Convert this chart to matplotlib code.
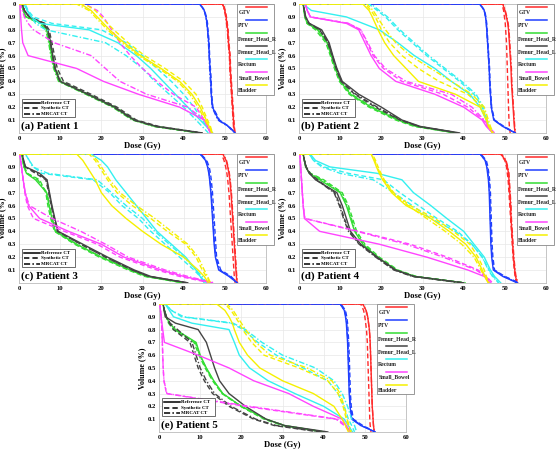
import matplotlib
matplotlib.use("Agg")
import matplotlib.pyplot as plt

plt.rcParams['font.family'] = ['Liberation Serif', 'DejaVu Serif']
plt.rcParams['font.weight'] = 'bold'

# volume levels shared by all curves, dose values read at these levels
VOL = [1.0, 0.95, 0.9, 0.85, 0.8, 0.7, 0.6, 0.5, 0.4, 0.3, 0.2, 0.1, 0.05, 0.0]

structures = ['GTV', 'PTV', 'Femur_Head_R', 'Femur_Head_L', 'Rectum', 'Small_Bowel', 'Bladder']
colors = ['#ff2a2a', '#1f3fff', '#33dd33', '#444444', '#33f0f0', '#ff44ff', '#f5f000']
modalities = ['Reference CT', 'Synthetic CT', 'MRCAT CT']
styles = ['-', (0, (3.5, 2)), (0, (4, 1.5, 1, 1.5))]
panel_titles = ['(a) Patient 1', '(b) Patient 2', '(c) Patient 3', '(d) Patient 4', '(e) Patient 5']

# Patient 1  [reference, synthetic, mrcat]
p1_gtv = [[49.5, 50.0, 50.3, 50.5, 50.7, 50.9, 51.2, 51.3, 51.5, 51.7, 51.9, 52.1, 52.2, 52.4],
          [49.6, 50.1, 50.4, 50.6, 50.8, 51.0, 51.3, 51.4, 51.6, 51.8, 52.0, 52.2, 52.3, 52.5],
          [49.4, 49.9, 50.2, 50.4, 50.6, 50.8, 51.1, 51.2, 51.4, 51.6, 51.8, 52.0, 52.1, 52.3]]
p1_ptv = [[43.9, 45.0, 45.4, 45.7, 45.8, 46.1, 46.2, 46.4, 46.6, 46.7, 47.0, 48.5, 50.9, 52.5],
          [44.0, 45.1, 45.5, 45.8, 45.9, 46.2, 46.3, 46.5, 46.7, 46.8, 47.1, 48.7, 51.0, 52.5],
          [43.9, 45.0, 45.4, 45.6, 45.8, 46.0, 46.2, 46.3, 46.5, 46.7, 46.9, 48.3, 50.8, 52.4]]
p1_fhr = [[0.6, 1.0, 1.7, 5.5, 6.7, 7.4, 7.9, 8.6, 9.8, 16.5, 23.0, 27.8, 33.0, 44.0],
          [0.6, 1.0, 1.8, 5.8, 7.0, 7.7, 8.2, 8.9, 10.2, 17.0, 23.5, 28.2, 33.5, 44.0],
          [0.6, 1.0, 1.6, 5.0, 6.5, 7.2, 7.7, 8.4, 9.6, 16.2, 22.7, 27.5, 32.8, 43.5]]
p1_fhl = [[0.8, 1.3, 2.5, 6.0, 7.0, 7.7, 8.2, 8.8, 10.0, 16.8, 23.3, 28.0, 33.5, 44.5],
          [0.8, 1.3, 2.6, 6.3, 7.3, 8.0, 8.6, 9.3, 10.8, 17.5, 23.8, 28.5, 34.0, 44.5],
          [0.8, 1.3, 2.4, 5.8, 6.9, 7.6, 8.1, 8.7, 9.9, 16.6, 23.0, 27.8, 33.2, 44.0]]
p1_rec = [[1.2, 2.0, 3.0, 5.0, 17.0, 24.0, 28.5, 32.0, 35.0, 38.0, 41.0, 44.0, 45.5, 47.0],
          [1.5, 2.2, 3.5, 8.0, 20.0, 26.0, 30.0, 33.5, 37.0, 40.0, 42.5, 44.5, 45.5, 47.0],
          [1.2, 2.0, 3.0, 4.0, 6.5, 21.0, 26.0, 30.0, 33.0, 36.5, 40.0, 43.0, 44.5, 46.0]]
p1_sb = [[0.2, 0.3, 0.4, 0.5, 0.6, 0.9, 2.2, 14.0, 20.5, 29.0, 39.0, 45.0, 45.8, 46.5],
         [16.0, 19.0, 20.5, 21.5, 22.5, 24.5, 27.0, 30.0, 33.5, 37.5, 43.0, 45.0, 45.8, 46.5],
         [0.3, 0.8, 1.3, 2.2, 3.5, 8.5, 17.5, 21.0, 24.5, 31.0, 41.0, 45.0, 45.8, 46.5]]
p1_bla = [[15.0, 17.5, 19.0, 20.5, 22.0, 25.5, 29.5, 34.5, 39.0, 42.0, 44.0, 45.5, 46.2, 47.0],
          [16.0, 18.5, 20.0, 21.5, 23.0, 26.5, 30.5, 35.5, 40.0, 43.0, 44.5, 45.8, 46.5, 47.0],
          [14.0, 17.0, 18.5, 20.0, 21.5, 25.0, 29.0, 34.0, 38.5, 41.5, 43.5, 45.2, 46.0, 46.8]]

# Patient 2
p2_gtv = [[49.5, 50.0, 50.4, 50.7, 50.9, 51.1, 51.3, 51.5, 51.6, 51.8, 52.0, 52.2, 52.3, 52.5],
          [49.3, 49.7, 49.9, 50.1, 50.2, 50.4, 50.5, 50.6, 50.7, 50.8, 50.9, 51.0, 51.1, 51.3],
          [49.6, 50.1, 50.5, 50.8, 51.0, 51.2, 51.4, 51.6, 51.7, 51.9, 52.1, 52.3, 52.4, 52.6]]
p2_ptv = [[43.9, 45.0, 45.3, 45.5, 45.6, 45.8, 46.0, 46.2, 46.3, 46.5, 46.7, 47.3, 49.5, 52.5],
          [44.0, 45.1, 45.4, 45.6, 45.7, 45.9, 46.1, 46.3, 46.4, 46.6, 46.8, 47.5, 49.8, 52.6],
          [43.9, 45.0, 45.3, 45.5, 45.6, 45.8, 46.0, 46.2, 46.3, 46.5, 46.7, 47.4, 49.6, 52.5]]
p2_fhr = [[1.0, 1.2, 1.4, 2.0, 4.5, 6.8, 7.8, 8.8, 10.0, 12.5, 17.5, 24.0, 28.5, 38.0],
          [1.0, 1.2, 1.4, 1.9, 4.0, 6.5, 7.6, 8.6, 9.8, 12.2, 17.0, 23.5, 28.0, 38.0],
          [1.0, 1.2, 1.5, 2.1, 4.7, 7.0, 8.0, 9.0, 10.2, 12.8, 17.8, 24.3, 28.8, 38.5]]
p2_fhl = [[1.0, 1.3, 1.6, 2.5, 5.5, 7.3, 8.2, 9.2, 10.5, 14.5, 20.0, 25.0, 29.5, 39.0],
          [1.0, 1.3, 1.6, 2.3, 5.0, 7.0, 8.0, 9.0, 10.2, 13.5, 18.5, 24.5, 29.0, 38.5],
          [1.0, 1.3, 1.6, 2.4, 5.2, 7.1, 8.1, 9.1, 10.3, 13.8, 19.0, 24.7, 29.2, 38.5]]
p2_rec = [[1.0, 3.0, 11.5, 15.5, 19.5, 24.0, 28.0, 33.0, 37.0, 41.5, 44.0, 45.5, 46.0, 47.0],
          [17.0, 19.0, 21.0, 22.5, 24.0, 27.5, 31.0, 35.0, 39.0, 42.5, 44.5, 45.5, 46.0, 46.8],
          [17.5, 19.5, 21.5, 23.0, 24.5, 28.0, 31.5, 35.5, 39.5, 43.0, 44.8, 45.7, 46.2, 47.0]]
p2_sb = [[1.5, 2.0, 2.7, 11.5, 14.5, 16.0, 17.5, 19.5, 23.5, 33.0, 40.0, 44.5, 45.5, 47.0],
         [1.5, 2.0, 2.8, 12.0, 15.0, 16.5, 18.0, 20.5, 25.0, 35.0, 41.0, 44.8, 45.8, 47.2],
         [1.5, 2.0, 2.8, 12.0, 15.0, 16.7, 18.3, 21.0, 26.0, 37.0, 42.0, 45.0, 46.0, 47.5]]
p2_bla = [[15.5, 17.0, 17.8, 18.5, 19.2, 20.8, 23.0, 26.0, 29.0, 38.0, 44.0, 45.5, 46.0, 47.0],
          [16.0, 17.5, 18.5, 19.3, 20.0, 22.0, 25.0, 29.0, 34.0, 41.0, 44.5, 45.7, 46.2, 47.0],
          [16.5, 18.0, 19.0, 20.0, 21.0, 23.5, 27.0, 32.0, 37.0, 42.0, 45.0, 46.0, 46.5, 47.2]]

# Patient 3
p3_gtv = [[49.5, 50.3, 50.7, 51.0, 51.2, 51.5, 51.7, 51.9, 52.1, 52.3, 52.5, 52.7, 52.8, 53.0],
          [49.2, 49.8, 50.2, 50.5, 50.7, 51.0, 51.2, 51.4, 51.6, 51.8, 52.0, 52.2, 52.3, 52.5],
          [49.6, 50.4, 50.8, 51.1, 51.3, 51.6, 51.8, 52.0, 52.2, 52.4, 52.6, 52.8, 52.9, 53.1]]
p3_ptv = [[44.0, 45.3, 45.8, 46.1, 46.3, 46.6, 46.8, 47.0, 47.2, 47.4, 47.7, 48.5, 51.0, 53.0],
          [44.2, 45.6, 46.2, 46.5, 46.7, 47.0, 47.2, 47.4, 47.6, 47.8, 48.0, 49.0, 51.5, 53.0],
          [44.0, 45.4, 45.9, 46.2, 46.4, 46.7, 46.9, 47.1, 47.3, 47.5, 47.8, 48.7, 51.2, 53.0]]
p3_fhr = [[0.6, 0.9, 1.2, 1.8, 4.0, 6.7, 7.3, 8.0, 8.8, 14.0, 20.0, 27.0, 31.0, 40.0],
          [0.6, 0.9, 1.3, 2.0, 5.0, 6.5, 7.0, 7.7, 8.6, 13.5, 19.5, 26.5, 30.5, 40.0],
          [0.6, 0.9, 1.2, 1.9, 4.5, 6.8, 7.4, 8.1, 8.9, 14.0, 20.0, 27.0, 31.0, 40.0]]
p3_fhl = [[0.8, 1.1, 1.6, 5.0, 6.8, 7.4, 8.0, 8.7, 9.5, 15.5, 21.5, 28.0, 32.0, 41.0],
          [0.8, 1.1, 1.5, 4.0, 6.5, 7.2, 7.8, 8.5, 9.3, 15.0, 21.0, 27.5, 31.5, 41.0],
          [0.8, 1.1, 1.5, 4.5, 6.7, 7.3, 7.9, 8.6, 9.4, 15.0, 21.0, 27.5, 31.5, 41.0]]
p3_rec = [[17.5, 20.0, 21.5, 22.5, 23.5, 26.0, 28.5, 31.0, 33.5, 37.0, 40.5, 43.0, 44.0, 45.0],
          [1.5, 2.5, 3.5, 5.5, 18.0, 22.0, 25.0, 29.0, 32.0, 35.5, 39.0, 42.5, 44.0, 45.5],
          [1.5, 2.5, 3.3, 7.0, 19.0, 22.5, 26.0, 30.0, 33.0, 36.5, 40.0, 43.0, 44.5, 45.5]]
p3_sb = [[0.2, 0.4, 0.6, 0.8, 1.0, 1.5, 2.3, 5.0, 12.0, 20.0, 25.5, 34.5, 40.0, 47.0],
         [0.2, 0.4, 0.6, 0.8, 1.0, 1.4, 2.0, 3.5, 11.0, 19.0, 24.5, 33.5, 39.0, 46.5],
         [0.2, 0.4, 0.6, 0.8, 1.0, 1.5, 2.5, 8.0, 15.0, 21.0, 26.5, 35.5, 41.0, 47.5]]
p3_bla = [[14.0, 15.5, 16.5, 17.5, 18.5, 20.0, 22.5, 26.0, 30.0, 34.5, 40.0, 43.5, 45.0, 46.0],
          [17.0, 18.5, 19.5, 20.5, 21.5, 23.8, 27.5, 32.0, 36.0, 40.5, 43.0, 44.5, 45.5, 46.5],
          [17.5, 19.0, 20.0, 21.0, 22.0, 24.5, 28.5, 33.0, 37.0, 41.0, 43.5, 45.0, 45.8, 46.5]]

# Patient 4
p4_gtv = [[49.0, 50.2, 50.6, 50.9, 51.0, 51.2, 51.4, 51.5, 51.7, 51.9, 52.1, 52.4, 52.6, 53.0],
          [49.0, 50.0, 50.4, 50.6, 50.8, 51.0, 51.2, 51.4, 51.6, 51.8, 52.0, 52.3, 52.5, 52.8],
          [49.2, 50.3, 50.7, 51.0, 51.1, 51.3, 51.5, 51.6, 51.8, 52.0, 52.2, 52.5, 52.7, 53.2]]
p4_ptv = [[44.0, 45.2, 45.6, 45.8, 46.0, 46.2, 46.3, 46.4, 46.5, 46.6, 46.8, 47.2, 49.5, 53.0],
          [44.2, 45.5, 45.9, 46.1, 46.3, 46.5, 46.6, 46.7, 46.8, 46.9, 47.1, 47.5, 50.0, 53.5],
          [44.0, 45.3, 45.7, 45.9, 46.1, 46.3, 46.4, 46.5, 46.6, 46.7, 46.9, 47.3, 49.8, 53.2]]
p4_fhr = [[1.0, 1.3, 1.6, 2.5, 5.0, 10.0, 11.5, 12.5, 13.5, 15.5, 19.0, 23.5, 28.0, 40.0],
          [1.0, 1.3, 1.7, 2.8, 6.0, 10.5, 12.0, 13.0, 14.0, 16.0, 19.5, 24.0, 28.5, 40.5],
          [1.0, 1.3, 1.6, 2.6, 5.5, 10.2, 11.7, 12.7, 13.7, 15.7, 19.2, 23.7, 28.2, 40.0]]
p4_fhl = [[1.0, 1.3, 1.7, 2.5, 4.0, 9.2, 10.5, 11.5, 12.5, 15.0, 19.0, 23.5, 28.0, 40.0],
          [1.0, 1.3, 1.7, 2.7, 4.5, 8.7, 10.0, 11.0, 12.2, 14.8, 18.8, 23.3, 27.8, 40.0],
          [1.0, 1.3, 1.7, 2.6, 4.2, 8.5, 9.8, 10.8, 12.0, 14.6, 18.6, 23.0, 27.5, 39.5]]
p4_rec = [[2.7, 4.0, 7.5, 19.0, 25.0, 27.8, 32.0, 35.9, 40.0, 42.5, 45.0, 46.5, 47.5, 49.0],
          [2.5, 3.5, 6.0, 12.0, 20.5, 24.5, 29.0, 33.5, 38.5, 42.0, 44.5, 46.2, 47.2, 48.5],
          [2.5, 3.5, 5.5, 10.0, 18.0, 23.0, 27.5, 32.0, 38.0, 42.0, 44.5, 46.0, 47.0, 48.5]]
p4_sb = [[0.2, 0.3, 0.4, 0.5, 0.6, 0.8, 1.0, 1.3, 5.0, 19.5, 31.0, 41.0, 45.0, 46.5],
         [0.2, 0.3, 0.4, 0.5, 0.6, 0.8, 1.0, 1.4, 14.5, 27.0, 36.0, 43.5, 45.5, 47.0],
         [0.2, 0.3, 0.4, 0.5, 0.6, 0.8, 1.0, 1.4, 14.0, 26.0, 35.0, 43.0, 45.3, 47.0]]
p4_bla = [[17.5, 18.2, 18.8, 19.5, 20.3, 22.5, 26.0, 32.0, 36.5, 40.5, 43.0, 44.5, 45.2, 46.0],
          [17.8, 18.6, 19.2, 19.9, 20.7, 23.0, 27.0, 33.0, 37.5, 41.5, 43.5, 45.0, 45.5, 46.2],
          [17.6, 18.4, 19.0, 19.7, 20.5, 22.8, 26.5, 31.0, 35.5, 39.5, 42.5, 44.2, 45.0, 46.0]]

# Patient 5
p5_gtv = [[49.5, 50.3, 50.7, 50.9, 51.1, 51.3, 51.4, 51.5, 51.6, 51.7, 51.8, 52.0, 52.1, 52.3],
          [49.0, 49.7, 50.0, 50.2, 50.4, 50.6, 50.7, 50.8, 50.9, 51.0, 51.1, 51.2, 51.3, 51.5],
          [49.5, 50.3, 50.7, 50.9, 51.1, 51.3, 51.4, 51.5, 51.6, 51.7, 51.8, 52.0, 52.1, 52.3]]
p5_ptv = [[44.0, 45.0, 45.3, 45.5, 45.6, 45.8, 45.9, 46.0, 46.1, 46.2, 46.4, 46.8, 49.0, 52.5],
          [44.2, 45.3, 45.6, 45.8, 45.9, 46.1, 46.2, 46.3, 46.4, 46.5, 46.7, 47.2, 49.5, 52.5],
          [44.0, 45.1, 45.4, 45.6, 45.7, 45.9, 46.0, 46.1, 46.2, 46.3, 46.5, 47.0, 49.2, 52.5]]
p5_fhr = [[1.0, 1.3, 1.8, 2.5, 4.0, 9.0, 10.0, 11.5, 13.3, 15.5, 20.0, 26.0, 30.5, 40.0],
          [1.0, 1.3, 1.7, 2.3, 3.5, 8.5, 9.7, 11.2, 13.0, 15.3, 19.8, 25.5, 30.0, 40.0],
          [1.0, 1.3, 1.8, 2.4, 3.8, 8.8, 9.9, 11.4, 13.2, 15.4, 20.0, 26.0, 30.5, 40.0]]
p5_fhl = [[1.0, 1.2, 1.5, 4.0, 9.5, 11.5, 12.5, 13.5, 14.7, 17.0, 21.0, 26.0, 30.5, 41.0],
          [1.0, 1.3, 1.8, 2.5, 3.5, 7.5, 8.5, 9.5, 11.0, 13.0, 17.0, 23.0, 28.0, 39.0],
          [1.0, 1.3, 1.8, 2.7, 4.5, 8.0, 9.0, 10.0, 11.5, 13.5, 17.5, 23.5, 28.5, 39.5]]
p5_rec = [[1.5, 2.5, 3.5, 8.0, 17.0, 18.3, 19.5, 22.0, 26.5, 33.0, 40.0, 45.0, 46.0, 47.0],
          [1.5, 3.0, 5.5, 17.5, 20.5, 24.0, 28.5, 35.0, 41.0, 43.5, 45.0, 46.0, 46.8, 47.5],
          [1.5, 3.0, 6.0, 18.0, 21.0, 25.0, 30.0, 38.0, 42.5, 44.5, 45.8, 46.8, 47.5, 48.0]]
p5_sb = [[0.2, 0.35, 0.5, 0.7, 0.9, 1.3, 9.5, 17.0, 23.0, 31.5, 37.5, 44.5, 45.5, 46.5],
         [0.2, 0.35, 0.5, 0.6, 0.7, 0.8, 0.9, 1.0, 1.2, 1.8, 21.0, 43.0, 45.0, 46.5],
         [0.2, 0.35, 0.5, 0.6, 0.7, 0.8, 0.9, 1.0, 1.2, 1.9, 22.0, 43.5, 45.3, 46.5]]
p5_bla = [[14.0, 16.0, 17.0, 17.8, 18.3, 19.5, 21.5, 24.5, 30.0, 37.5, 42.5, 44.5, 45.3, 46.0],
          [16.0, 17.5, 18.5, 19.5, 20.3, 22.5, 25.5, 34.0, 41.0, 43.5, 44.7, 45.5, 46.0, 46.5],
          [16.5, 18.0, 19.0, 20.0, 21.0, 23.5, 27.0, 36.0, 42.0, 44.0, 45.0, 45.7, 46.2, 46.7]]

patients = [
    [p1_gtv, p1_ptv, p1_fhr, p1_fhl, p1_rec, p1_sb, p1_bla],
    [p2_gtv, p2_ptv, p2_fhr, p2_fhl, p2_rec, p2_sb, p2_bla],
    [p3_gtv, p3_ptv, p3_fhr, p3_fhl, p3_rec, p3_sb, p3_bla],
    [p4_gtv, p4_ptv, p4_fhr, p4_fhl, p4_rec, p4_sb, p4_bla],
    [p5_gtv, p5_ptv, p5_fhr, p5_fhl, p5_rec, p5_sb, p5_bla],
]

# axes rectangles in figure fraction (left, bottom, width, height)
positions = [
    [0.034, 0.704, 0.441, 0.287],
    [0.534, 0.704, 0.441, 0.287],
    [0.034, 0.370, 0.441, 0.287],
    [0.534, 0.370, 0.441, 0.287],
    [0.284, 0.038, 0.441, 0.285],
]

fig = plt.figure(figsize=(5.6, 4.49), dpi=100)


def draw_legends(ax):
    # structure legend at right, line above label
    ax.add_patch(plt.Rectangle((0.883, 0.295), 0.149, 0.705, transform=ax.transAxes,
                               facecolor='white', edgecolor='#888888', lw=0.6,
                               clip_on=False, zorder=5))
    for i, (name, c) in enumerate(zip(structures, colors)):
        yl = 0.975 - i * 0.101
        ax.plot([0.92, 1.005], [yl, yl], transform=ax.transAxes, color=c, lw=1.1,
                clip_on=False, zorder=6)
        ax.text(0.888, yl - 0.042, name, transform=ax.transAxes, fontsize=4.1,
                va='center', ha='left', zorder=6, color='#222222')
    # linestyle legend bottom left
    ax.add_patch(plt.Rectangle((0.012, 0.124), 0.215, 0.14, transform=ax.transAxes,
                               facecolor='white', edgecolor='#555555', lw=0.6, zorder=5))
    for i, (name, ls) in enumerate(zip(modalities, styles)):
        yl = 0.233 - i * 0.043
        ax.plot([0.02, 0.085], [yl, yl], transform=ax.transAxes, color='black', lw=1.1,
                linestyle=ls, zorder=6)
        ax.text(0.09, yl, name, transform=ax.transAxes, fontsize=3.6,
                va='center', ha='left', zorder=6)


for k in range(5):
    ax = fig.add_axes(positions[k])
    for s in range(len(structures)):
        for m in range(3):
            doses = patients[k][s][m]
            ax.plot([0.0] + doses, [1.0] + VOL, color=colors[s], linestyle=styles[m],
                    lw=1.0, zorder=3)
    ax.set_xlim(0, 60)
    ax.set_ylim(0, 1)
    ax.set_xticks([0, 10, 20, 30, 40, 50, 60])
    ax.set_yticks([0.1, 0.2, 0.3, 0.4, 0.5, 0.6, 0.7, 0.8, 0.9, 1.0])
    ax.set_yticklabels(['0.1', '0.2', '0.3', '0.4', '0.5', '0.6', '0.7', '0.8', '0.9', '0'])
    ax.tick_params(labelsize=4.8, length=0, pad=2)
    for lab in ax.get_xticklabels() + ax.get_yticklabels():
        lab.set_fontweight('bold')
    ax.grid(True, color='#e8e8e8', lw=0.5)
    ax.set_axisbelow(True)
    for sp in ax.spines.values():
        sp.set_color('#bbbbbb')
        sp.set_linewidth(0.6)
    ax.set_xlabel('Dose (Gy)', fontsize=6.2, fontweight='bold', labelpad=1)
    ax.set_ylabel('Volume (%)', fontsize=5.8, fontweight='bold', labelpad=1)
    ax.text(0.008, 0.05, panel_titles[k], transform=ax.transAxes, fontsize=7.8,
            fontweight='bold', va='center', ha='left', zorder=7)
    draw_legends(ax)

fig.savefig('out.png', dpi=100)
